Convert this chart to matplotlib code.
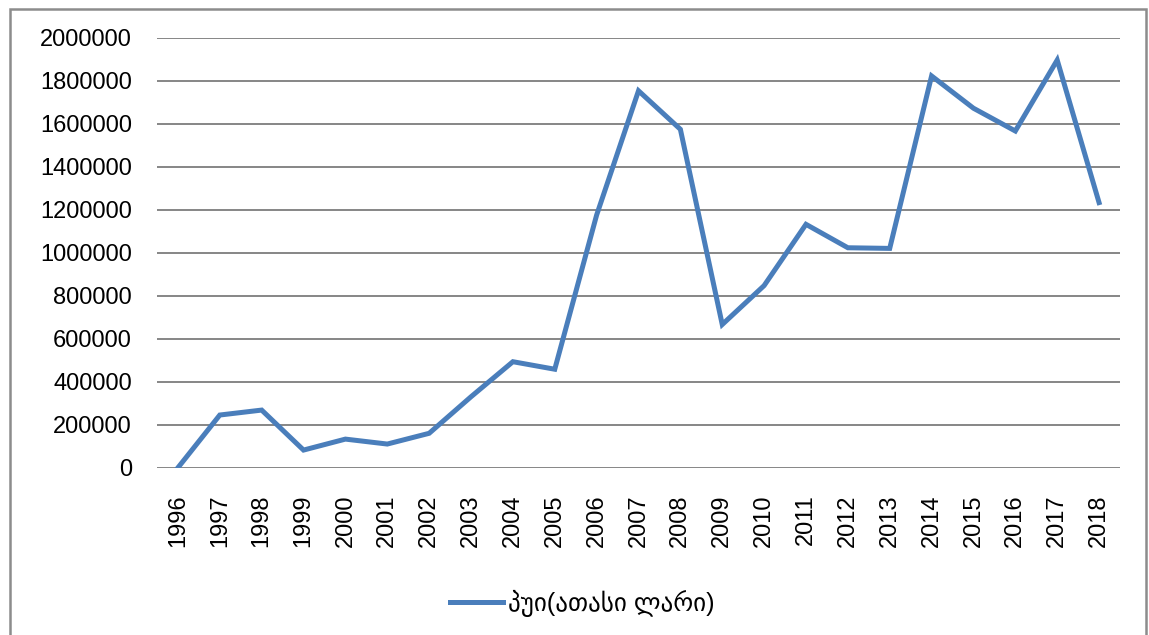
import matplotlib.pyplot as plt
from matplotlib.ticker import FuncFormatter

years = [str(y) for y in range(1996, 2019)]
values = [0, 245000, 268000, 82000, 133000, 110000, 160000, 330000, 493000,
          458000, 1175000, 1753000, 1574000, 666000, 847000, 1132000, 1023000,
          1020000, 1822000, 1672000, 1566000, 1896000, 1233000]
series_name = "პუი(ათასი ლარი)"

plt.rcParams['font.family'] = ['Liberation Sans', 'DejaVu Sans']

W, H = 1149, 635
fig = plt.figure(figsize=(W / 100, H / 100), dpi=100)
ax = fig.add_axes([157 / W, (H - 467.7) / H, (1120 - 157) / W, (467.7 - 37.7) / H])

# outer chart frame (bottom edge falls off the image)
frame = plt.Rectangle((10 / W, -0.05), (1146 - 10) / W, (H - 9) / H + 0.05,
                      transform=fig.transFigure, fill=False,
                      edgecolor='#8c8c8c', linewidth=1.8, clip_on=False)
fig.patches.append(frame)

x = list(range(len(years)))
line, = ax.plot(x, values, color='#4a7ebb', linewidth=3.6,
                solid_joinstyle='miter', label=series_name)

ax.set_xlim(-0.5, len(years) - 0.5)
ax.set_ylim(0, 2000000)
ax.set_yticks(range(0, 2000001, 200000))
ax.yaxis.set_major_formatter(FuncFormatter(lambda v, p: f"{int(v)}"))
ax.set_xticks(x)
ax.set_xticklabels(years, rotation=90)

ax.grid(axis='y', color='#868686', linewidth=1.4)
ax.set_axisbelow(True)
for s in ax.spines.values():
    s.set_visible(False)
ax.tick_params(axis='both', length=0, labelsize=17)
ax.tick_params(axis='y', pad=18)
ax.tick_params(axis='x', pad=19)

fig.legend(handles=[line], loc='center', bbox_to_anchor=(582 / W, 1 - 603 / H),
           frameon=False, fontsize=18, handlelength=2.1, handletextpad=0.2)

fig.savefig('out.png', dpi=100)
